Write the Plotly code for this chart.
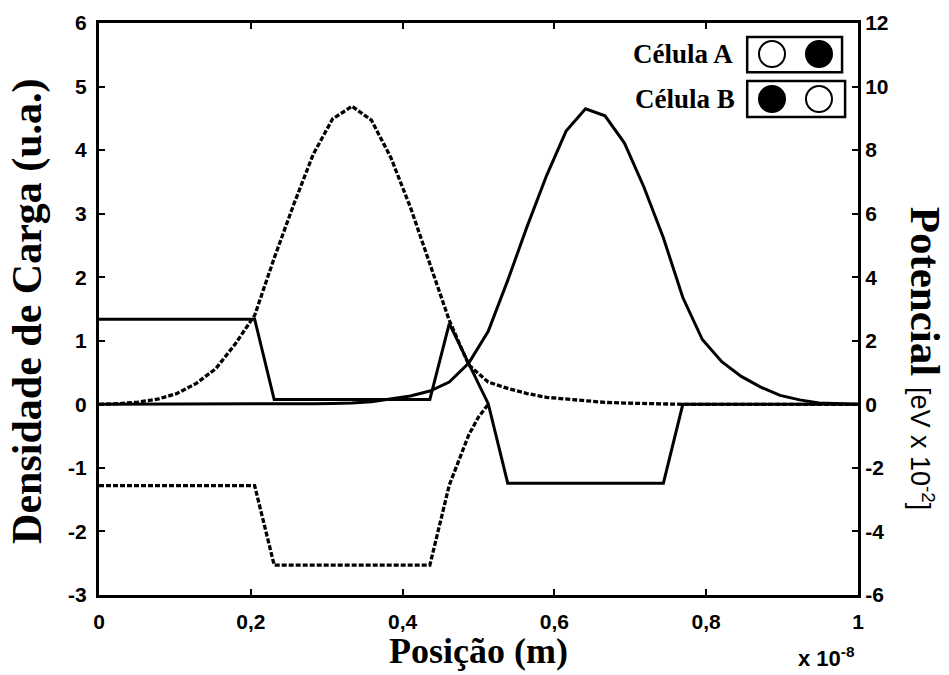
import plotly.graph_objects as go

# Position grid (units of 1e-8 m)
pos = [0.0, 0.0256, 0.0513, 0.0769, 0.1026, 0.1282, 0.1538, 0.1795, 0.2051, 0.2308,
       0.2564, 0.2821, 0.3077, 0.3333, 0.359, 0.3846, 0.4103, 0.4359, 0.4615, 0.4872,
       0.5128, 0.5385, 0.5641, 0.5897, 0.6154, 0.641, 0.6667, 0.6923, 0.7179, 0.7436,
       0.7692, 0.7949, 0.8205, 0.8462, 0.8718, 0.8974, 0.9231, 0.9487, 0.9744, 1.0]

# Charge density, dashed curve (left peak)
charge_dashed = [0.0, 0.01, 0.035, 0.08, 0.17, 0.33, 0.56, 0.95, 1.40, 2.30,
                 3.14, 3.93, 4.49, 4.69, 4.47, 3.88, 3.10, 2.22, 1.32, 0.62,
                 0.35, 0.25, 0.17, 0.11, 0.08, 0.05, 0.03, 0.02, 0.01, 0.005,
                 0.0, 0.0, 0.0, 0.0, 0.0, 0.0, 0.0, 0.0, 0.0, 0.0]

# Charge density, solid curve (right peak)
charge_solid = [0.0, 0.0, 0.0, 0.0, 0.0, 0.0, 0.0, 0.0, 0.005, 0.005,
                0.01, 0.01, 0.015, 0.02, 0.04, 0.08, 0.13, 0.21, 0.35, 0.65,
                1.15, 1.95, 2.80, 3.60, 4.30, 4.65, 4.54, 4.11, 3.42, 2.62,
                1.68, 1.02, 0.67, 0.44, 0.27, 0.14, 0.07, 0.02, 0.005, 0.0]

# Potential [eV x 1e-2], solid
pot_solid_pos = [0.0, 0.2051, 0.2308, 0.4359, 0.4615, 0.4872, 0.5128, 0.5385, 0.7436, 0.7692, 1.0]
pot_solid = [2.68, 2.68, 0.15, 0.15, 2.54, 1.28, 0.02, -2.48, -2.48, 0.0, 0.0]

# Potential [eV x 1e-2], dashed
pot_dashed_pos = [0.0, 0.2051, 0.2308, 0.4359, 0.4615, 0.475, 0.4872, 0.5, 0.5128]
pot_dashed = [-2.56, -2.56, -5.06, -5.06, -2.54, -1.70, -0.96, -0.40, 0.0]

xtick_vals = [0, 0.2, 0.4, 0.6, 0.8, 1]
xtick_text = ["0", "0,2", "0,4", "0,6", "0,8", "1"]
y1_ticks = [-3, -2, -1, 0, 1, 2, 3, 4, 5, 6]
y1_text = ["-3", "-2", "-1", "0", "1", "2", "3", "4", "5", "6"]
y2_ticks = [-6, -4, -2, 0, 2, 4, 6, 8, 10, 12]
y2_text = ["-6", "-4", "-2", "0", "2", "4", "6", "8", "10", "12"]

solid = dict(color="black", width=3)
dashed = dict(color="black", width=3.3, dash="5px,2px")

fig = go.Figure()
fig.add_trace(go.Scatter(x=pos, y=charge_dashed, mode="lines", line=dashed))
fig.add_trace(go.Scatter(x=pos, y=charge_solid, mode="lines", line=solid))
fig.add_trace(go.Scatter(x=pot_solid_pos, y=pot_solid, mode="lines", line=solid, yaxis="y2"))
fig.add_trace(go.Scatter(x=pot_dashed_pos, y=pot_dashed, mode="lines", line=dashed, yaxis="y2"))

tickfont = dict(family="Liberation Sans", size=21, color="black", weight="bold")
axcommon = dict(showgrid=False, zeroline=False, showline=True, linecolor="black",
                linewidth=3, ticks="inside", ticklen=6, tickwidth=2, tickcolor="black",
                tickfont=tickfont)

fig.update_layout(
    width=949, height=675,
    margin=dict(l=99, r=91, t=23, b=80),
    paper_bgcolor="white", plot_bgcolor="white",
    showlegend=False,
    xaxis=dict(range=[0, 1], tickvals=xtick_vals, ticktext=xtick_text,
               mirror="ticks", ticklabelstandoff=6, **axcommon),
    yaxis=dict(range=[-3, 6], tickvals=y1_ticks, ticktext=y1_text,
               ticklabelstandoff=5, **axcommon),
    yaxis2=dict(range=[-6, 12], tickvals=y2_ticks, ticktext=y2_text,
                overlaying="y", side="right", ticklabelstandoff=0, **axcommon),
)

serif = "Liberation Serif"
anns = [
    dict(text="<b>Posição (m)</b>", x=0.5, y=-0.098, xref="paper", yref="paper",
         xanchor="center", yanchor="middle", showarrow=False,
         font=dict(family=serif, size=36, color="black")),
    dict(text="<b>Densidade de Carga (u.a.)</b>", x=-0.095, y=0.4965, xref="paper", yref="paper",
         xanchor="center", yanchor="middle", showarrow=False, textangle=-90,
         font=dict(family=serif, size=42, color="black")),
    dict(text="<b>Potencial</b> <span style='font-family:Liberation Sans;font-size:27px'>[eV x 10<sup>-2</sup>]</span>",
         x=1.089, y=0.414, xref="paper", yref="paper",
         xanchor="center", yanchor="middle", showarrow=False, textangle=90,
         font=dict(family=serif, size=43, color="black")),
    dict(text="<b>x 10<sup>-8</sup></b>", x=0.999, y=-0.137, xref="paper", yref="paper",
         xanchor="right", yanchor="bottom", showarrow=False,
         font=dict(family="Liberation Sans", size=22, color="black")),
    dict(text="<b>Célula A</b>", x=0.838, y=0.9458, xref="paper", yref="paper",
         xanchor="right", yanchor="middle", showarrow=False,
         font=dict(family=serif, size=27, color="black")),
    dict(text="<b>Célula B</b>", x=0.8406, y=0.8671, xref="paper", yref="paper",
         xanchor="right", yanchor="middle", showarrow=False,
         font=dict(family=serif, size=27, color="black")),
]

rx, ry = 0.01713, 0.02273
shapes = [
    dict(type="rect", xref="paper", yref="paper", x0=0.854, x1=0.979, y0=0.914, y1=0.9755,
         line=dict(color="black", width=2.5), fillcolor="white"),
    dict(type="rect", xref="paper", yref="paper", x0=0.854, x1=0.983, y0=0.8357, y1=0.8986,
         line=dict(color="black", width=2.5), fillcolor="white"),
]
circles = [(0.8867, 0.9458, False), (0.9486, 0.9458, True),
           (0.8867, 0.8671, True), (0.9486, 0.8671, False)]
for cx, cy, filled in circles:
    shapes.append(dict(type="circle", xref="paper", yref="paper",
                       x0=cx - rx, x1=cx + rx, y0=cy - ry, y1=cy + ry,
                       line=dict(color="black", width=2),
                       fillcolor="black" if filled else "white"))

fig.update_layout(annotations=anns, shapes=shapes)
fig.write_html("out.html")
